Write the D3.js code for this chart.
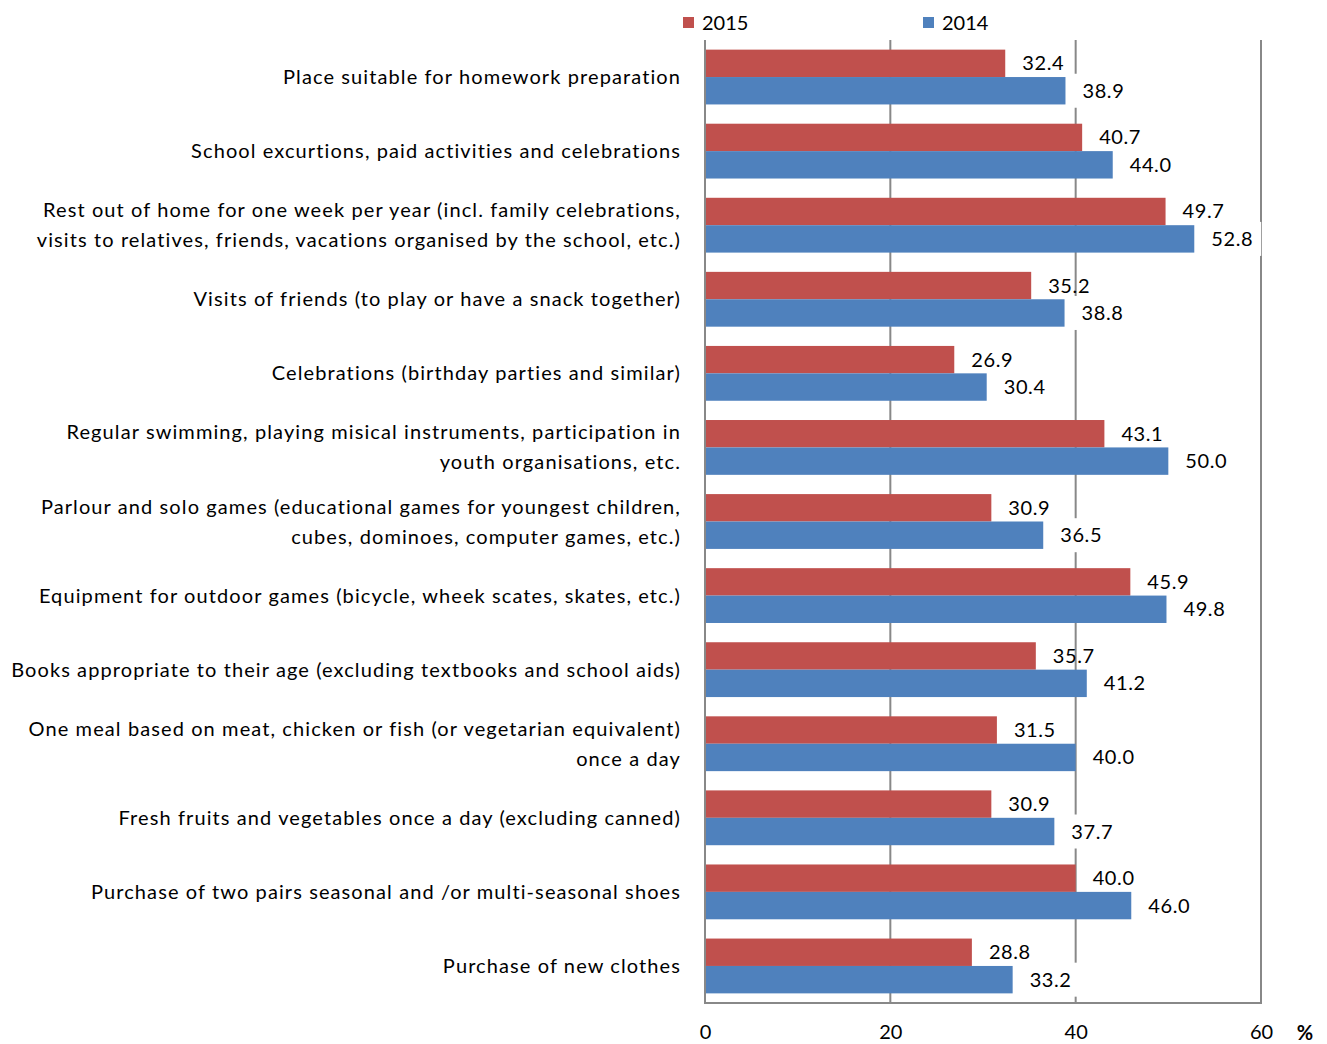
<!DOCTYPE html>
<html>
<head>
<meta charset="utf-8">
<script src="https://cdn.jsdelivr.net/npm/d3@7"></script>
<style>
  html, body { margin: 0; padding: 0; background: #fff; }
  svg { display: block; font-family: Lato, "Open Sans", sans-serif; }
</style>
</head>
<body>
<svg id="chart" width="1327" height="1044"></svg>
<script>
// Category labels (each entry is a list of lines)
const categories = [
  ["Place suitable for homework preparation"],
  ["School excurtions, paid activities and celebrations"],
  ["Rest out of home for one week per year (incl. family celebrations,", "visits to relatives, friends, vacations organised by the school, etc.)"],
  ["Visits of friends (to play or have a snack together)"],
  ["Celebrations (birthday parties and similar)"],
  ["Regular swimming, playing misical instruments, participation in", "youth organisations, etc."],
  ["Parlour and solo games (educational games for youngest children,", "cubes, dominoes, computer games, etc.)"],
  ["Equipment for outdoor games (bicycle, wheek scates, skates, etc.)"],
  ["Books appropriate to their age (excluding textbooks and school aids)"],
  ["One meal based on meat, chicken or fish (or vegetarian equivalent)", "once a day"],
  ["Fresh fruits and vegetables once a day (excluding canned)"],
  ["Purchase of two pairs seasonal and /or multi-seasonal shoes"],
  ["Purchase of new clothes"]
];
const values2015 = [32.4, 40.7, 49.7, 35.2, 26.9, 43.1, 30.9, 45.9, 35.7, 31.5, 30.9, 40.0, 28.8];
const values2014 = [38.9, 44.0, 52.8, 38.8, 30.4, 50.0, 36.5, 49.8, 41.2, 40.0, 37.7, 46.0, 33.2];
const seriesNames = ["2015", "2014"];
const seriesColors = ["#C0504D", "#4F81BD"];
const xTicks = [0, 20, 40, 60];
const unitLabel = "%";

const svg = d3.select("#chart");
const plotLeft = 705, plotRight = 1261, plotTop = 40, plotBottom = 1003;

const x = d3.scaleLinear().domain([0, 60]).range([plotLeft, plotRight]);
const y = d3.scaleBand().domain(d3.range(categories.length))
  .range([plotTop, plotBottom]).paddingInner(0.26).paddingOuter(0.13);
const ySub = d3.scaleBand().domain(seriesNames).range([0, y.bandwidth()]);
const color = d3.scaleOrdinal().domain(seriesNames).range(seriesColors);

const rows = categories.map((c, i) => ({ i, label: c, v: { "2015": values2015[i], "2014": values2014[i] } }));

// Vertical gridlines (20, 40, 60)
svg.append("g").selectAll("line").data(xTicks.filter(t => t > 0)).join("line")
  .attr("x1", d => x(d)).attr("x2", d => x(d))
  .attr("y1", plotTop).attr("y2", plotBottom)
  .attr("stroke", "#888").attr("stroke-width", 2);

// Bars
const groups = svg.append("g").selectAll("g").data(rows).join("g")
  .attr("transform", d => `translate(0,${y(d.i)})`);

groups.selectAll("rect").data(d => seriesNames.map(s => ({ s, v: d.v[s] }))).join("rect")
  .attr("x", x(0))
  .attr("y", d => ySub(d.s))
  .attr("width", d => x(d.v) - x(0))
  .attr("height", ySub.bandwidth())
  .attr("fill", d => color(d.s));

// Value labels; the 2014 labels sit on a white box
const valueFont = 20;
groups.each(function(d) {
  const g = d3.select(this);
  seriesNames.forEach(s => {
    const v = d.v[s];
    const cy = ySub(s) + ySub.bandwidth() / 2;
    const tx = x(v) + 17;
    let box = null;
    if (s === "2014") {
      box = g.append("rect").attr("fill", "#fff");
    }
    const t = g.append("text")
      .attr("x", tx).attr("y", cy)
      .attr("dy", "0.35em")
      .attr("font-size", valueFont)
      .attr("letter-spacing", 0.6)
      .attr("fill", "#000")
      .text(v.toFixed(1));
    if (box) {
      const w = t.node().getComputedTextLength();
      box.attr("x", x(v) + 7).attr("y", cy - 17)
        .attr("width", w + 18).attr("height", 34);
    }
  });
});

// Category labels
svg.append("g").selectAll("text").data(rows).join("text")
  .attr("text-anchor", "end")
  .attr("font-size", 20)
  .attr("letter-spacing", 1.1)
  .attr("fill", "#000")
  .each(function(d) {
    const n = d.label.length;
    const cy = y(d.i) + y.bandwidth() / 2;
    d3.select(this).selectAll("tspan").data(d.label).join("tspan")
      .attr("x", 681)
      .attr("y", (l, k) => cy + (k - (n - 1) / 2) * 30)
      .attr("dy", "0.35em")
      .text(l => l);
  });

// Axis frame: left and bottom lines
svg.append("line").attr("x1", plotLeft).attr("x2", plotLeft).attr("y1", plotTop).attr("y2", plotBottom)
  .attr("stroke", "#888").attr("stroke-width", 2);
svg.append("line").attr("x1", plotLeft - 1).attr("x2", plotRight + 1).attr("y1", plotBottom).attr("y2", plotBottom)
  .attr("stroke", "#888").attr("stroke-width", 2);

// X axis tick labels
const xAxis = d3.axisBottom(x).tickValues(xTicks).tickSize(0).tickPadding(0).tickFormat(d3.format("d"));
const axisG = svg.append("g").attr("transform", `translate(0,${plotBottom + 22})`).call(xAxis);
axisG.select(".domain").remove();
axisG.selectAll("text").attr("font-size", 20).attr("font-family", "Lato, 'Open Sans', sans-serif").attr("fill", "#000");
svg.append("text").attr("x", 1305).attr("y", 1033).attr("dy", "0.35em")
  .attr("text-anchor", "middle").attr("font-size", 20).attr("font-weight", "bold").text(unitLabel);

// Legend
const legendX = [683, 923];
const legend = svg.append("g").selectAll("g").data(seriesNames).join("g")
  .attr("transform", (d, i) => `translate(${legendX[i]},17)`);
legend.append("rect").attr("width", 11).attr("height", 11).attr("fill", d => color(d));
legend.append("text").attr("x", 19).attr("y", 6).attr("dy", "0.35em")
  .attr("font-size", 20).text(d => d);
</script>
</body>
</html>
